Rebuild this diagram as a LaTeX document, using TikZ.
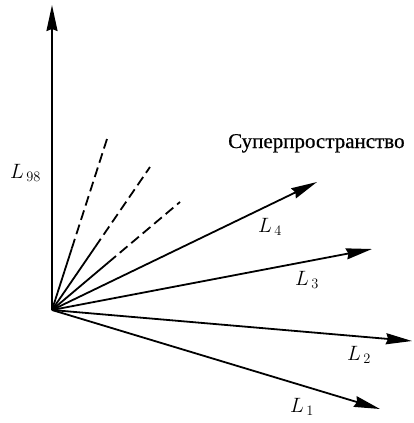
\documentclass[tikz,border=0pt]{standalone}
\usepackage{fontspec}
\newfontfamily\rufont[FakeBold=0.6]{Liberation Serif}
\usetikzlibrary{arrows.meta,calc}
\begin{document}
\begin{tikzpicture}[x=1pt,y=-1pt,
  vec/.style={line width=1.8pt,-{Stealth[length=26pt,width=11pt,inset=2pt]}},
  ray/.style={line width=1.8pt},
  dashray/.style={line width=1.8pt,dash pattern=on 10pt off 5pt},
  lab/.style={anchor=base west,inner sep=0pt,font=\fontsize{21}{25}\selectfont}]
\useasboundingbox (0,0) rectangle (413,423);
\coordinate (O) at (52,310);
\coordinate (T98) at (52,5);
\coordinate (D1) at (107,139);
\coordinate (D2) at (150,167);
\coordinate (D3) at (180,202);
\coordinate (E4) at (317,182);
\coordinate (E3) at (372,249);
\coordinate (E2) at (412,341);
\coordinate (E1) at (380,409);
\coordinate (B1) at ($(O)!0.36!(D1)$);
\coordinate (B2) at ($(O)!0.44!(D2)$);
\coordinate (B3) at ($(O)!0.44!(D3)$);
\draw[vec] (O) -- (T98);
\draw[vec] (O) -- (E4);
\draw[vec] (O) -- (E3);
\draw[vec] (O) -- (E2);
\draw[vec] (O) -- (E1);
\draw[ray] (O) -- (B1);
\draw[dashray] (B1) -- (D1);
\draw[ray] (O) -- (B2);
\draw[dashray] (B2) -- (D2);
\draw[ray] (O) -- (B3);
\draw[dashray] (B3) -- (D3);
\node[lab] (l98) at (10,178) {$L_{\,98}$};
\node[lab] (l4) at (258,232) {$L_{\,4}$};
\node[lab] (l3) at (295,285) {$L_{\,3}$};
\node[lab] (l2) at (347,360) {$L_{\,2}$};
\node[lab] (l1) at (290,412) {$L_{\,1}$};
\node[anchor=base west,inner sep=0pt,font=\rufont\fontsize{21}{25}\selectfont] (sup) at (228,148) {Суперпространство};
\end{tikzpicture}
\end{document}
